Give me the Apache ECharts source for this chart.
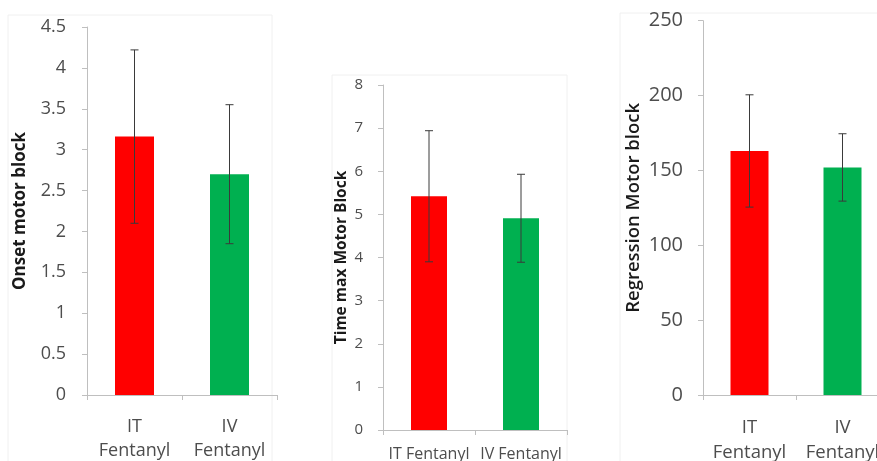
<!DOCTYPE html>
<html>
<head>
<meta charset="utf-8">
<style>
  html, body { margin: 0; padding: 0; background: #ffffff; }
  #chart { width: 877px; height: 461px; }
</style>
<script src="https://cdn.jsdelivr.net/npm/echarts@6/dist/echarts.min.js"></script>
</head>
<body>
<div id="chart"></div>
<script>
// Group labels
const groupsStacked = ['IT\nFentanyl', 'IV\nFentanyl'];
const groupsInline = ['IT Fentanyl', 'IV Fentanyl'];

// Onset of motor block (mean, SD)
const onsetMean = [3.16, 2.70];
const onsetSD = [1.06, 0.85];

// Time to maximum motor block (mean, SD)
const timeMaxMean = [5.42, 4.91];
const timeMaxSD = [1.52, 1.02];

// Regression of motor block (mean, SD)
const regressionMean = [163, 152];
const regressionSD = [37.5, 22.5];

// Y axis scales
const onsetTicks = { min: 0, max: 4.5, interval: 0.5 };
const timeMaxTicks = { min: 0, max: 8, interval: 1 };
const regressionTicks = { min: 0, max: 250, interval: 50 };

const barColors = ['#ff0000', '#00b050'];
const FONT = '"Open Sans", "Liberation Sans", sans-serif';
const AXIS_GREY = '#bfbfbf';
const LABEL_GREY = '#4d4d4d';

function yAxisFor(idx, ticks, name, fontSize, margin, nameSize, nameGap, nameWeight) {
  return {
    type: 'value', gridIndex: idx,
    min: ticks.min, max: ticks.max, interval: ticks.interval,
    name: name, nameLocation: 'middle', nameRotate: 90, nameGap: nameGap,
    nameTextStyle: { fontFamily: FONT, fontSize: nameSize, fontWeight: nameWeight, color: '#1a1a1a' },
    axisLine: { show: true, lineStyle: { color: AXIS_GREY, width: 1 } },
    axisTick: { show: true, length: 5, lineStyle: { color: AXIS_GREY } },
    axisLabel: { fontFamily: FONT, fontSize: fontSize, color: LABEL_GREY, margin: margin },
    splitLine: { show: false }
  };
}

function xAxisFor(idx, cats, fontSize, lineHeight, margin) {
  return {
    type: 'category', gridIndex: idx, data: cats,
    axisLine: { show: true, lineStyle: { color: AXIS_GREY, width: 1 } },
    axisTick: { show: true, length: 5, alignWithLabel: false, lineStyle: { color: AXIS_GREY } },
    axisLabel: { fontFamily: FONT, fontSize: fontSize, lineHeight: lineHeight, color: LABEL_GREY,
                 margin: margin, interval: 0, hideOverlap: false }
  };
}

function barSeries(idx, values, width) {
  return {
    type: 'bar', xAxisIndex: idx, yAxisIndex: idx, barWidth: width,
    data: values.map((v, i) => ({ value: v, itemStyle: { color: barColors[i] } })),
    silent: true, animation: false
  };
}

function errorSeries(idx, means, sds) {
  return {
    type: 'custom', xAxisIndex: idx, yAxisIndex: idx, silent: true, animation: false, z: 5,
    data: means.map((m, i) => [i, m - sds[i], m + sds[i]]),
    renderItem: function (params, api) {
      const lo = api.coord([api.value(0), api.value(1)]);
      const hi = api.coord([api.value(0), api.value(2)]);
      const cap = 4;
      const style = { stroke: '#3a3a3a', lineWidth: 1 };
      return {
        type: 'group',
        children: [
          { type: 'line', shape: { x1: hi[0], y1: hi[1], x2: lo[0], y2: lo[1] }, style: style },
          { type: 'line', shape: { x1: hi[0] - cap, y1: hi[1], x2: hi[0] + cap, y2: hi[1] }, style: style },
          { type: 'line', shape: { x1: lo[0] - cap, y1: lo[1], x2: lo[0] + cap, y2: lo[1] }, style: style }
        ]
      };
    }
  };
}

const chart = echarts.init(document.getElementById('chart'), null, { renderer: 'canvas' });

chart.setOption({
  backgroundColor: '#ffffff',
  animation: false,
  graphic: [
    { type: 'rect', shape: { x: 8, y: 15, width: 264, height: 460 }, style: { fill: 'none', stroke: '#f0f0f0', lineWidth: 1 }, silent: true, z: -1 },
    { type: 'rect', shape: { x: 332, y: 75, width: 235, height: 400 }, style: { fill: 'none', stroke: '#f0f0f0', lineWidth: 1 }, silent: true, z: -1 },
    { type: 'rect', shape: { x: 620, y: 13, width: 300, height: 460 }, style: { fill: 'none', stroke: '#f0f0f0', lineWidth: 1 }, silent: true, z: -1 }
  ],
  grid: [
    { left: 87, top: 27, width: 190, height: 368, containLabel: false, outerBoundsMode: 'none' },
    { left: 383, top: 85, width: 184, height: 345, containLabel: false, outerBoundsMode: 'none' },
    { left: 703, top: 20.7, width: 186, height: 374.3, containLabel: false, outerBoundsMode: 'none' }
  ],
  xAxis: [
    xAxisFor(0, groupsStacked, 18, 24, 20),
    xAxisFor(1, groupsInline, 16, 18, 15),
    xAxisFor(2, groupsStacked, 18.5, 25, 20)
  ],
  yAxis: [
    yAxisFor(0, onsetTicks, 'Onset motor block', 18, 21, 17, 58, 'bold'),
    yAxisFor(1, timeMaxTicks, 'Time max Motor Block', 15, 20, 15.5, 33, 'bold'),
    yAxisFor(2, regressionTicks, 'Regression Motor block', 20, 20, 18.5, 60, 600)
  ],
  series: [
    barSeries(0, onsetMean, 39),
    errorSeries(0, onsetMean, onsetSD),
    barSeries(1, timeMaxMean, 36),
    errorSeries(1, timeMaxMean, timeMaxSD),
    barSeries(2, regressionMean, 38),
    errorSeries(2, regressionMean, regressionSD)
  ]
});
</script>
</body>
</html>
